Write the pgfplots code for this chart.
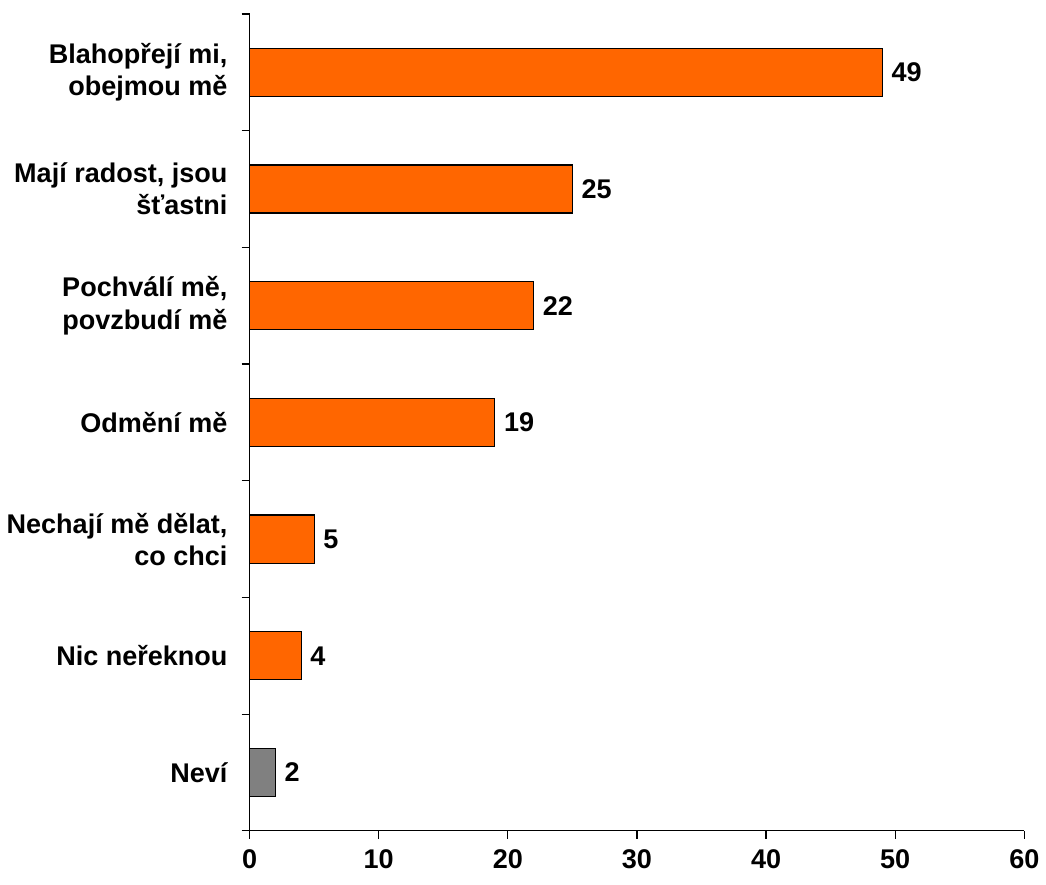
\documentclass[border=0pt]{standalone}
\usepackage{fontspec}
\setmainfont{Liberation Sans}
\usepackage{pgfplots}
\pgfplotsset{compat=1.18}
\definecolor{barorange}{HTML}{FF6600}
\definecolor{bargray}{HTML}{808080}
\begin{document}
\begin{tikzpicture}
\begin{axis}[
    scale only axis,
    width=387pt, height=408pt,
    xbar, bar width=24pt, bar shift=0pt,
    xmin=0, xmax=60, ymin=-0.5, ymax=6.5,
    axis x line=bottom, axis y line=left,
    axis line style={-, black, line width=0.6pt},
    xtick={0,10,...,60},
    ytick={0,...,6},
    yticklabels={Neví, Nic neřeknou, {Nechají mě dělat,\\co chci}, Odmění mě,
        {Pochválí mě,\\povzbudí mě}, {Mají radost, jsou\\šťastni},
        {Blahopřejí mi,\\obejmou mě}},
    yticklabel style={align=right, font=\fontsize{13.5}{16}\selectfont\bfseries, xshift=-7.5pt},
    xticklabel style={font=\fontsize{13.5}{16}\selectfont\bfseries, yshift=-6pt},
    /pgf/number format/assume math mode=true,
    major tick length=0pt,
    tick align=outside,
    xtick style={black, line width=0.6pt},
    extra y ticks={-0.5,0.5,...,6.5},
    extra y tick labels={},
    extra y tick style={major tick length=4pt, tick style={black, line width=0.6pt}},
    extra x ticks={0,10,...,60},
    extra x tick labels={},
    extra x tick style={major tick length=4pt, tick style={black, line width=0.6pt}},
    nodes near coords,
    every node near coord/.append style={font=\fontsize{13.5}{16}\selectfont\bfseries, black, xshift=1pt},
    clip=false,
]
\addplot[fill=barorange, draw=black, line width=0.6pt] coordinates {
    (49,6) (25,5) (22,4) (19,3) (5,2) (4,1)
};
\addplot[fill=bargray, draw=black, line width=0.6pt] coordinates {
    (2,0)
};
\path (rel axis cs:0,1) ++(0pt,7pt) coordinate (topmargin);
\path (rel axis cs:1,0) ++(8pt,-27pt) coordinate (bottommargin);
\end{axis}
\end{tikzpicture}
\end{document}
